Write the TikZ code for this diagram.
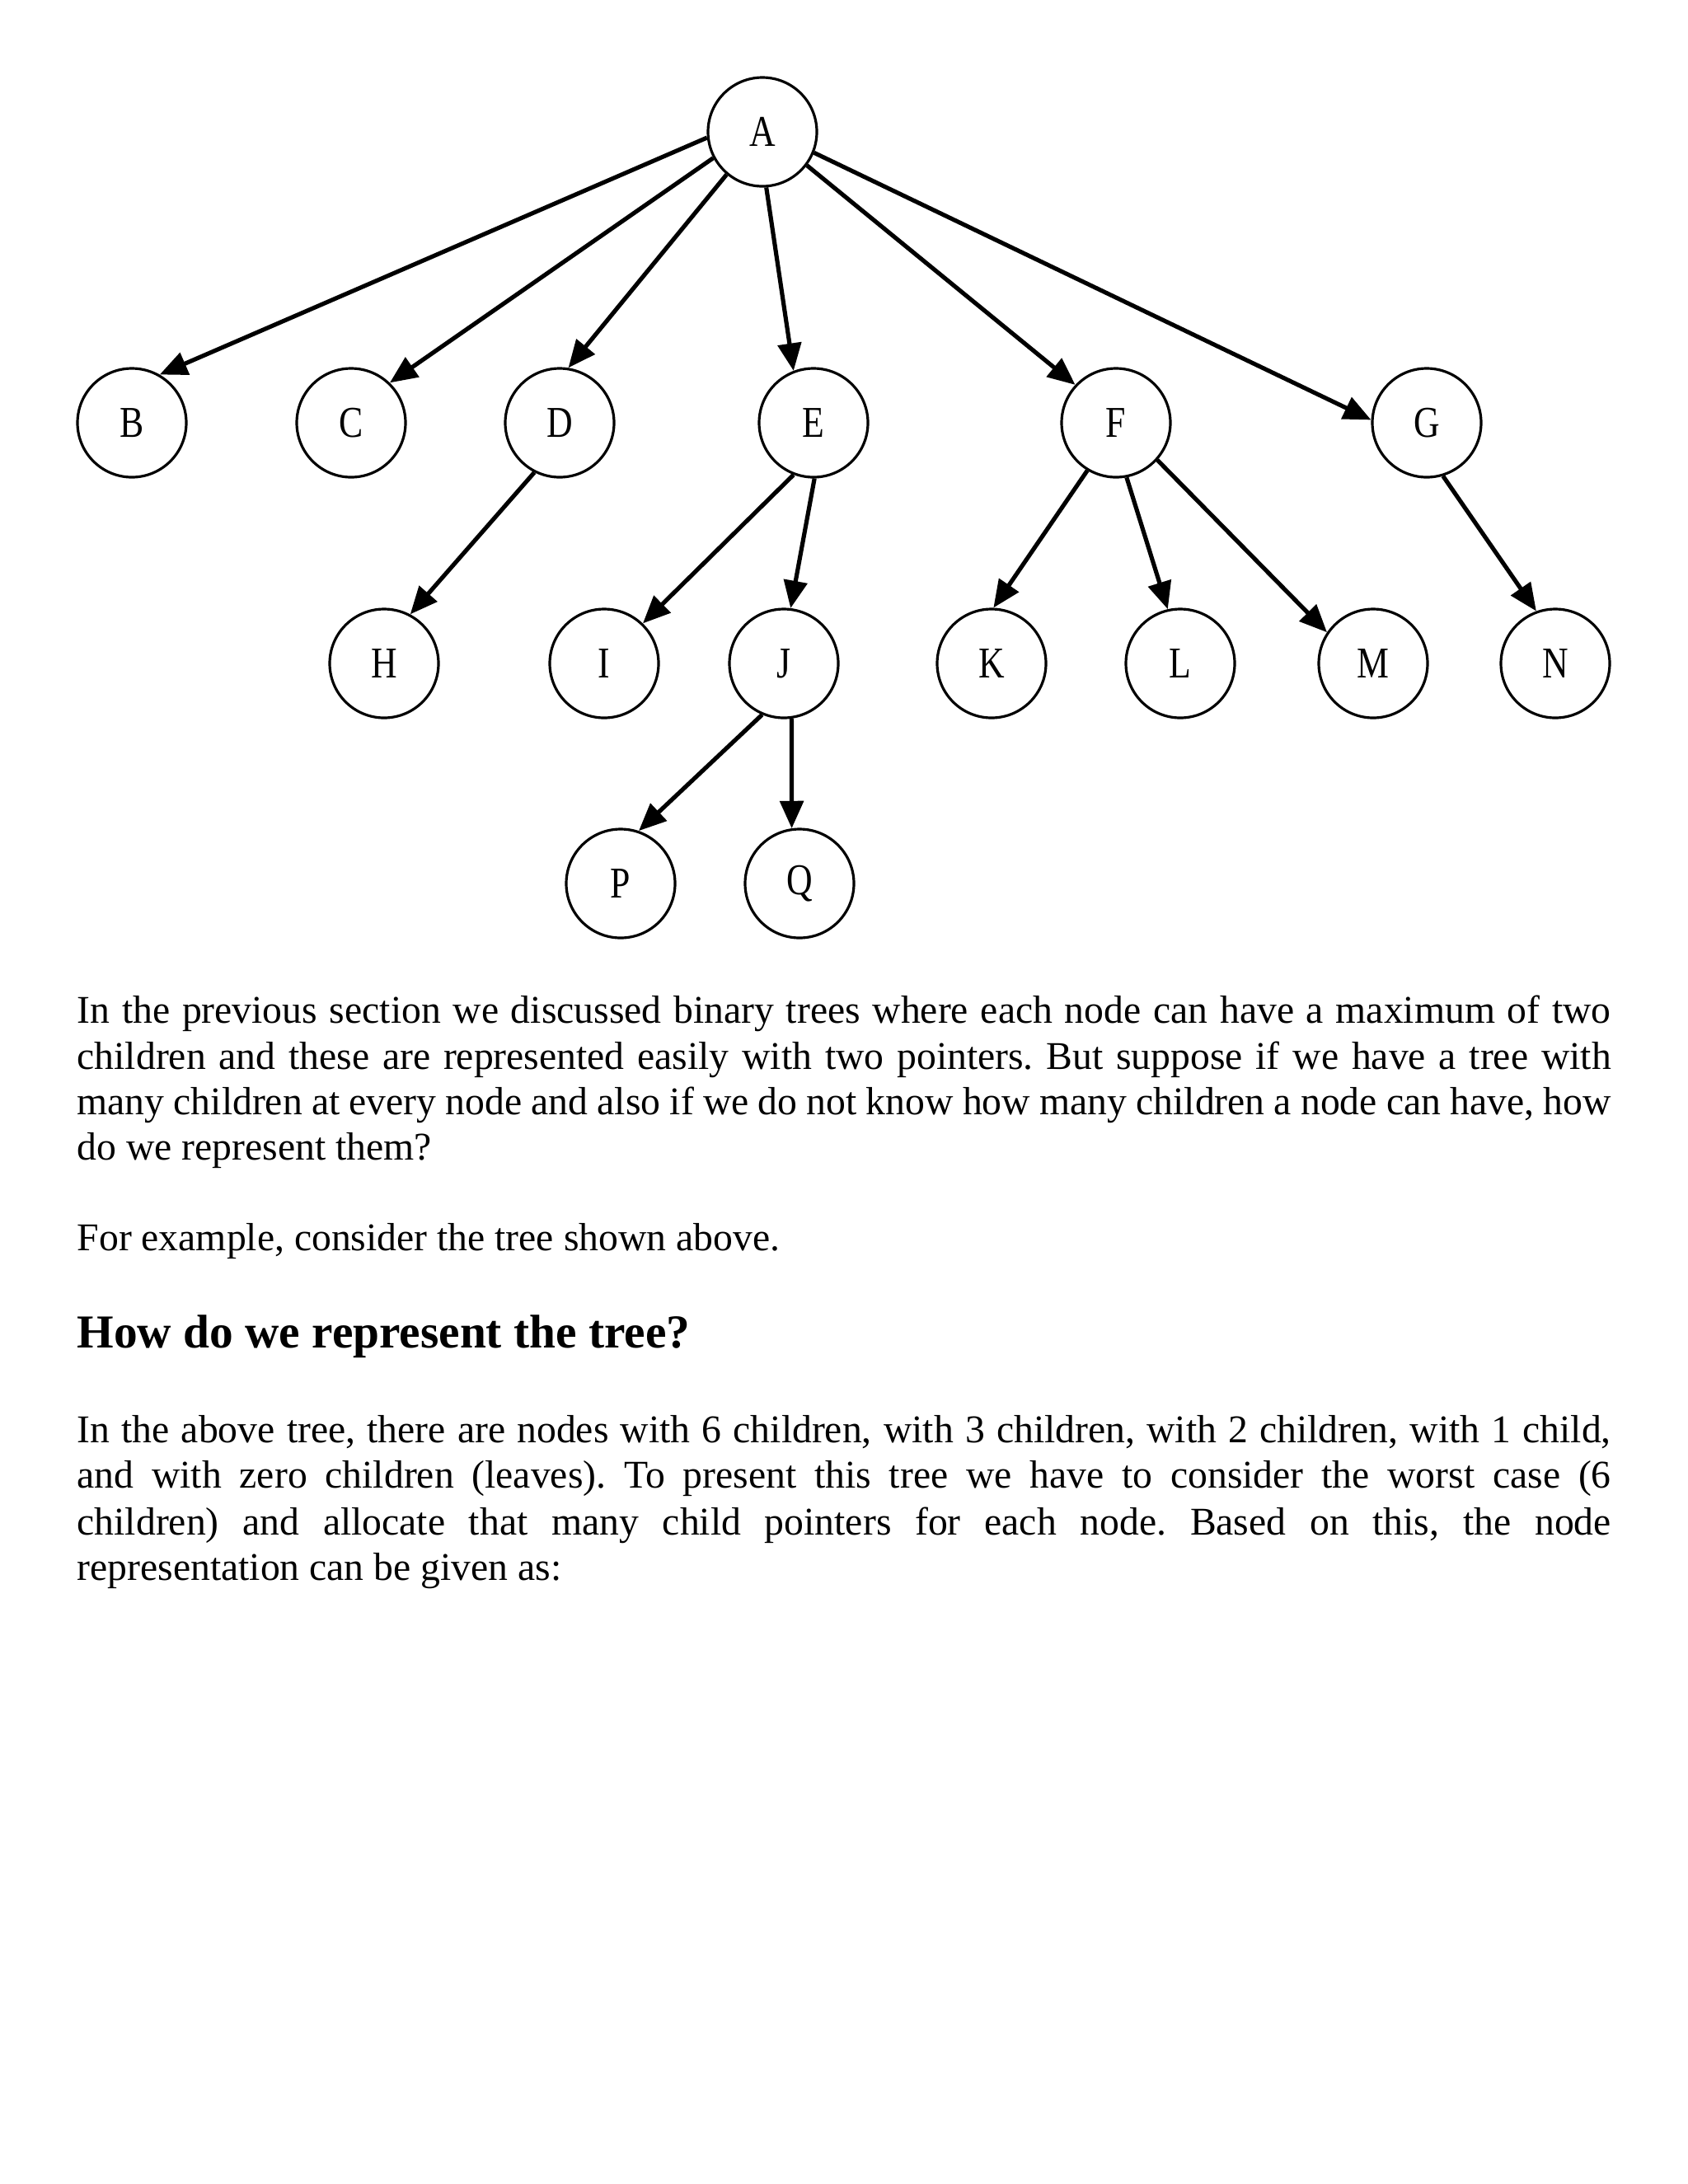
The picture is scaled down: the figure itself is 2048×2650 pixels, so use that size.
\documentclass[tikz,border=0pt]{standalone}
\usepackage{fontspec}
\setmainfont{Liberation Serif}
\newfontfamily\nodefont[FakeStretch=0.82]{Liberation Serif}
\usetikzlibrary{arrows.meta}
\newcommand{\jline}[1]{\makebox[558.3pt][s]{#1}}
\frenchspacing
\begin{document}
\begin{tikzpicture}[x=0.3pt,y=-0.3pt,
  tnode/.style={circle,draw,line width=0.95pt,minimum size=39.6pt,inner sep=0pt,font=\nodefont\fontsize{16}{16}\selectfont},
  edge/.style={line width=1.55pt,-{Triangle[length=10pt,width=8.5pt]}},
  para/.style={anchor=base west,inner sep=0pt,font=\fontsize{14.3}{16.7}\selectfont},
  head/.style={anchor=base west,inner sep=0pt,font=\fontsize{17.2}{20}\selectfont\bfseries}]
\path[use as bounding box,fill=white] (0,0) rectangle (2048,2650);
% tree nodes
\node[tnode] (A) at (925,160) {A};
\node[tnode] (B) at (160,513) {B};
\node[tnode] (C) at (426,513) {C};
\node[tnode] (D) at (679,513) {D};
\node[tnode] (E) at (987,513) {E};
\node[tnode] (F) at (1354,513) {F};
\node[tnode] (G) at (1731,513) {G};
\node[tnode] (H) at (466,805) {H};
\node[tnode] (I) at (733,805) {I};
\node[tnode] (J) at (951,805) {J};
\node[tnode] (K) at (1203,805) {K};
\node[tnode] (L) at (1432,805) {L};
\node[tnode] (M) at (1666,805) {M};
\node[tnode] (N) at (1887,805) {N};
\node[tnode] (P) at (753,1072) {P};
\node[tnode] (Q) at (970,1072) {Q};
% edges
\draw[edge] (A.186) -- (B.60);
\draw[edge] (A.208) -- (C.46);
\draw[edge] (A.230) -- (D.81);
\draw[edge] (A.274) -- (E.111);
\draw[edge] (A.323) -- (F.137);
\draw[edge] (A.338) -- (G.177);
\draw[edge] (D.243) -- (H.62);
\draw[edge] (E.249) -- (I.46);
\draw[edge] (E.271) -- (J.83);
\draw[edge] (F.239) -- (K.88);
\draw[edge] (F.281) -- (L.103);
\draw[edge] (F.318) -- (M.146);
\draw[edge] (G.287) -- (N.110);
\draw[edge] (J.247) -- (P.71);
\draw[edge] (J.278) -- (Q.98);
% text
\node[para] (p1a) at (93,1241) {\jline{In the previous section we discussed binary trees where each node can have a maximum of two}};
\node[para] (p1b) at (93,1297) {\jline{children and these are represented easily with two pointers. But suppose if we have a tree with}};
\node[para] (p1c) at (93,1352) {\jline{many children at every node and also if we do not know how many children a node can have, how}};
\node[para] (p1d) at (93,1407) {do we represent them?};
\node[para] (p2) at (93,1517) {For example, consider the tree shown above.};
\node[head] (h1) at (93,1635) {How do we represent the tree?};
\node[para] (p3a) at (93,1750) {\jline{In the above tree, there are nodes with 6 children, with 3 children, with 2 children, with 1 child,}};
\node[para] (p3b) at (93,1805) {\jline{and with zero children (leaves). To present this tree we have to consider the worst case (6}};
\node[para] (p3c) at (93,1862) {\jline{children) and allocate that many child pointers for each node. Based on this, the node}};
\node[para] (p3d) at (93,1917) {representation can be given as:};
\end{tikzpicture}
\end{document}
